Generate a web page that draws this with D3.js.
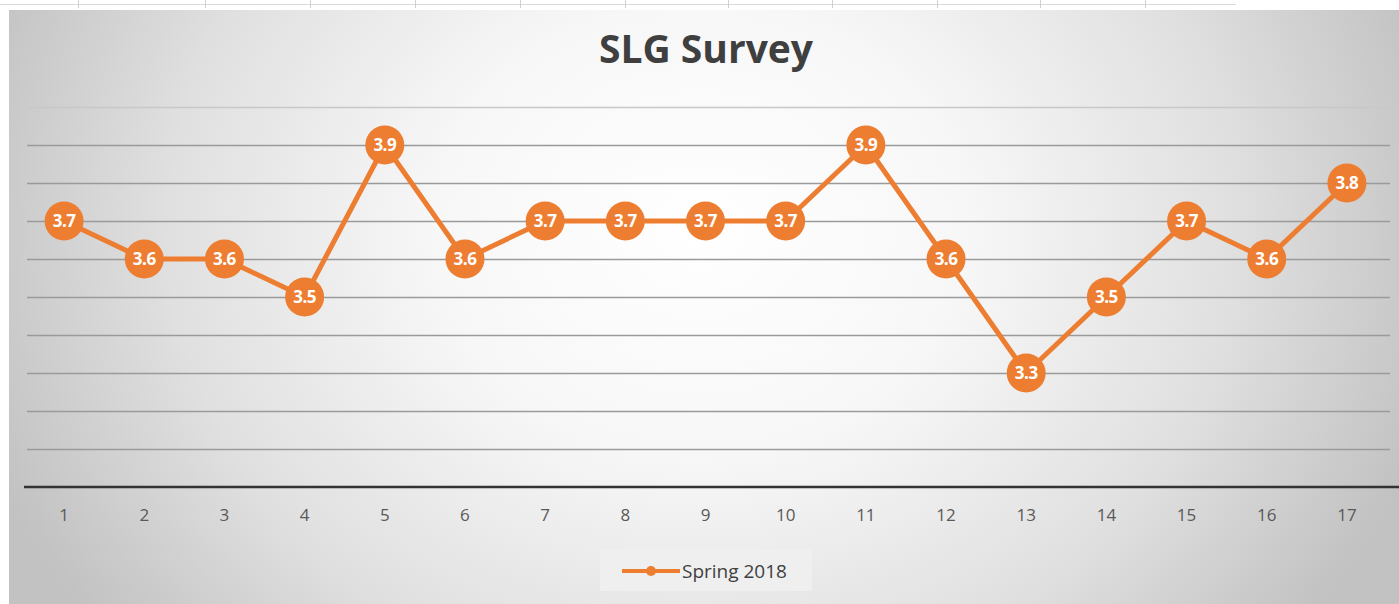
<!DOCTYPE html>
<html><head><meta charset="utf-8">
<script src="https://cdn.jsdelivr.net/npm/d3@7"></script>
<style>html,body{margin:0;padding:0;background:#fff;overflow:hidden}</style>
</head><body>
<svg id="c" width="1399" height="604"></svg>
<script>
const categories = ["1","2","3","4","5","6","7","8","9","10","11","12","13","14","15","16","17"];
const seriesName = "Spring 2018";
const values = [3.7,3.6,3.6,3.5,3.9,3.6,3.7,3.7,3.7,3.7,3.9,3.6,3.3,3.5,3.7,3.6,3.8];
const yTicks = [3.0,3.1,3.2,3.3,3.4,3.5,3.6,3.7,3.8,3.9,4.0];
const title = "SLG Survey";

const W = 1399, H = 604;
const svg = d3.select("#c");
const defs = svg.append("defs");
const rg = defs.append("radialGradient").attr("id","bg")
  .attr("gradientUnits","userSpaceOnUse")
  .attr("cx",700).attr("cy",230).attr("r",760)
  .attr("gradientTransform","translate(700,230) scale(1,0.85) translate(-700,-230)");
rg.append("stop").attr("offset","0").attr("stop-color","#ffffff");
rg.append("stop").attr("offset","0.35").attr("stop-color","#f7f7f7");
rg.append("stop").attr("offset","0.7").attr("stop-color","#e0e0e0");
rg.append("stop").attr("offset","1").attr("stop-color","#c2c2c2");

// spreadsheet strip at top
const strip = svg.append("g");
strip.append("line").attr("x1",0).attr("x2",1236).attr("y1",4.5).attr("y2",4.5).attr("stroke","#d9d9d9");
[78,205,310,415,520,625,728,832,937,1040,1145].forEach(x=>{
  strip.append("line").attr("x1",x+0.5).attr("x2",x+0.5).attr("y1",0).attr("y2",8).attr("stroke","#d0d0d0");
});

svg.append("rect").attr("x",9).attr("y",10).attr("width",W-9).attr("height",H-10).attr("fill","url(#bg)");

const x = d3.scaleBand().domain(categories).range([24,1387]);
const y = d3.scaleLinear().domain([3.0,4.0]).range([487,107]);

// gridlines
svg.append("g").selectAll("line").data(yTicks.slice(1)).join("line")
  .attr("x1",27).attr("x2",1390)
  .attr("y1",d=>Math.round(y(d))+0.5).attr("y2",d=>Math.round(y(d))+0.5)
  .attr("stroke",d=>d===4.0?"#c8c8c8":"#9a9a9a").attr("stroke-width",1.3);

// x axis
const xAxis = d3.axisBottom(x).tickSize(0).tickPadding(22);
const gx = svg.append("g").attr("transform",`translate(0,${y(3.0)})`).call(xAxis);
gx.select(".domain").remove();
gx.selectAll("text").attr("font-family","'Open Sans', sans-serif").attr("font-size",17).attr("fill","#595959");
svg.append("line").attr("x1",24).attr("x2",W).attr("y1",y(3.0)).attr("y2",y(3.0))
  .attr("stroke","#333").attr("stroke-width",2.5);

// title
svg.append("text").attr("x",706).attr("y",63).attr("text-anchor","middle")
  .attr("font-family","'Open Sans', sans-serif").attr("font-weight",700).attr("font-size",39)
  .attr("fill","#3f3f3f").text(title);

const orange = "#ED7D31";
const cx = (d,i)=>x(categories[i])+x.bandwidth()/2;
const line = d3.line().x((d,i)=>cx(d,i)).y(d=>y(d));
svg.append("path").datum(values).attr("d",line).attr("fill","none")
  .attr("stroke",orange).attr("stroke-width",5).attr("stroke-linejoin","round");

const pts = svg.append("g").selectAll("g").data(values).join("g")
  .attr("transform",(d,i)=>`translate(${cx(d,i)},${y(d)})`);
pts.append("circle").attr("r",19.5).attr("fill",orange);
pts.append("text").attr("text-anchor","middle").attr("dy","0.35em")
  .attr("font-family","'Open Sans', sans-serif").attr("font-weight",700).attr("font-size",17)
  .attr("letter-spacing",-0.5)
  .attr("fill","#fff").text(d=>d.toFixed(1));

// legend
const lg = svg.append("g");
lg.append("rect").attr("x",600).attr("y",549).attr("width",212).attr("height",42).attr("fill","#efefef");
lg.append("line").attr("x1",622).attr("x2",680).attr("y1",571).attr("y2",571).attr("stroke",orange).attr("stroke-width",4);
lg.append("circle").attr("cx",651).attr("cy",571).attr("r",5).attr("fill",orange);
lg.append("text").attr("x",682).attr("y",578).attr("font-family","'Open Sans', sans-serif")
  .attr("font-size",19).attr("fill","#404040").text(seriesName);
</script>
</body></html>
